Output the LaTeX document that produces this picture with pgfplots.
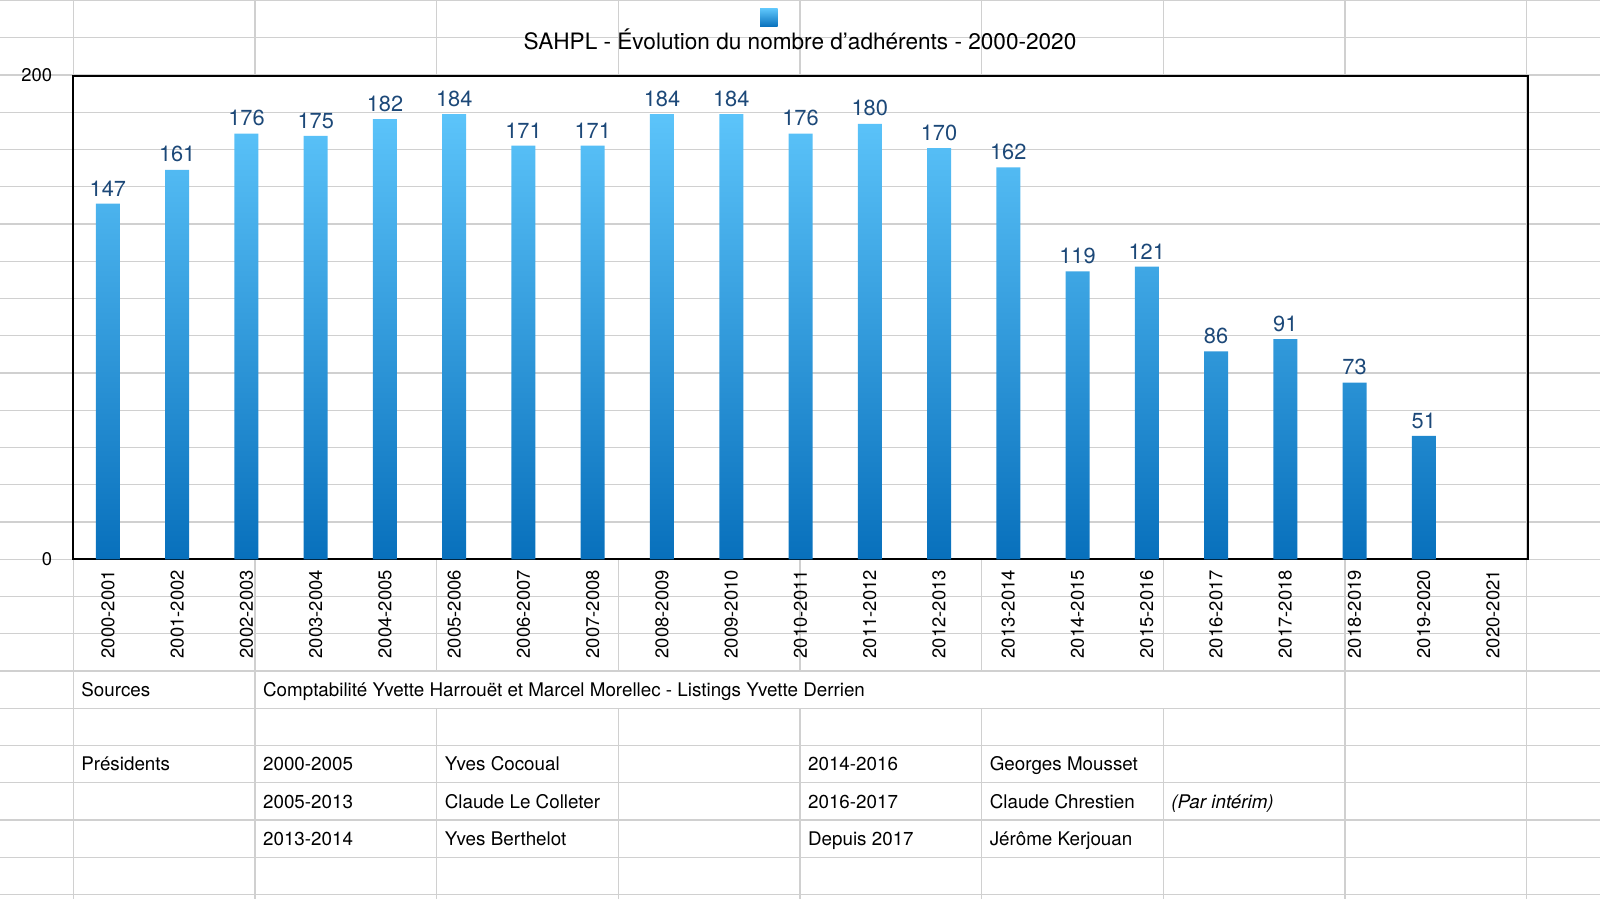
\documentclass[border=0pt]{standalone}
\usepackage{fontspec}
\setmainfont{TeX Gyre Heros}
\usepackage{pgfplots}
\pgfplotsset{compat=1.18}
\definecolor{gridc}{RGB}{208,208,208}
\definecolor{bartop}{RGB}{92,196,250}
\definecolor{barbot}{RGB}{8,112,188}
\definecolor{labc}{RGB}{28,72,120}
\newcommand{\tabfont}{\fontsize{9.4}{11}\selectfont}
\newcommand{\tickfont}{\fontsize{9.2}{11}\selectfont}
\begin{document}
\begin{tikzpicture}
\path[use as bounding box] (0,0) rectangle (800pt,-449.5pt);
\begin{scope}[x=0.5pt,y=-0.5pt, gridl/.style={draw=gridc, line width=0.55pt}]
\foreach \k in {0,...,24} { \draw[gridl] (0,{0.5+37.25*\k}) -- (1600,{0.5+37.25*\k}); }
\foreach \k in {0,8} { \draw[gridl] ({73.3+181.675*\k},0) -- ({73.3+181.675*\k},899); }
\foreach \k in {1,...,7} { \draw[gridl] ({73.3+181.675*\k},0) -- ({73.3+181.675*\k},75.5); }
\foreach \k in {1,7} { \draw[gridl] ({73.3+181.675*\k},559.3) -- ({73.3+181.675*\k},899); }
\foreach \k in {2,...,6} { \draw[gridl] ({73.3+181.675*\k},559.3) -- ({73.3+181.675*\k},671); \draw[gridl] ({73.3+181.675*\k},708.3) -- ({73.3+181.675*\k},899); }
% legend key
\shade[top color=bartop, bottom color=barbot] (760,9) rectangle (777.7,26.7);
% title
\node[anchor=base, inner sep=0pt, font=\fontsize{11.3}{13}\selectfont] at (800,49.3) {SAHPL - Évolution du nombre d’adhérents - 2000-2020};
% table
\begin{scope}[every node/.style={anchor=base west, inner sep=0pt, font=\tabfont}]
\node at (81,696.3) {Sources};
\node at (262.7,696.3) {Comptabilité Yvette Harrouët et Marcel Morellec - Listings Yvette Derrien};
\node at (81,770.7) {Présidents};
\node at (262.7,770.7) {2000-2005};
\node at (444.4,770.7) {Yves Cocoual};
\node at (807.7,770.7) {2014-2016};
\node at (989.4,770.7) {Georges Mousset};
\node at (262.7,808) {2005-2013};
\node at (444.4,808) {Claude Le Colleter};
\node at (807.7,808) {2016-2017};
\node at (989.4,808) {Claude Chrestien};
\node at (1171,808) {\itshape (Par intérim)};
\node at (262.7,845.2) {2013-2014};
\node at (444.4,845.2) {Yves Berthelot};
\node at (807.7,845.2) {Depuis 2017};
\node at (989.4,845.2) {Jérôme Kerjouan};
\end{scope}
\end{scope}
\begin{axis}[
  at={(36.65pt,-279.65pt)}, anchor=south west,
  scale only axis, width=727.2pt, height=241.9pt,
  xmin=-0.5, xmax=20.5, ymin=0, ymax=200,
  axis line style={line width=1pt, black},
  /pgf/number format/assume math mode=true,
  major tick length=0pt,
  ytick={0,200},
  xtick={0,...,20},
  xticklabels={2000-2001,2001-2002,2002-2003,2003-2004,2004-2005,2005-2006,2006-2007,2007-2008,2008-2009,2009-2010,2010-2011,2011-2012,2012-2013,2013-2014,2014-2015,2015-2016,2016-2017,2017-2018,2018-2019,2019-2020,2020-2021},
  tick label style={font=\tickfont, inner sep=0pt},
  x tick label style={rotate=90, anchor=east},
  y tick label style={anchor=east},
  xticklabel shift=5.3pt,
  yticklabel shift=10.4pt,
  clip=false,
]
\addplot[ybar, bar width=12pt, bar shift=0pt, draw=none, top color=bartop, bottom color=barbot,
  nodes near coords,
  nodes near coords style={font=\fontsize{10.9}{12}\selectfont, text=labc, inner sep=0pt, anchor=south, yshift=3.6pt}]
coordinates {
(0,147) (1,161) (2,176) (3,175) (4,182) (5,184) (6,171) (7,171) (8,184) (9,184)
(10,176) (11,180) (12,170) (13,162) (14,119) (15,121) (16,86) (17,91) (18,73) (19,51)
};
\end{axis}
\end{tikzpicture}
\end{document}
